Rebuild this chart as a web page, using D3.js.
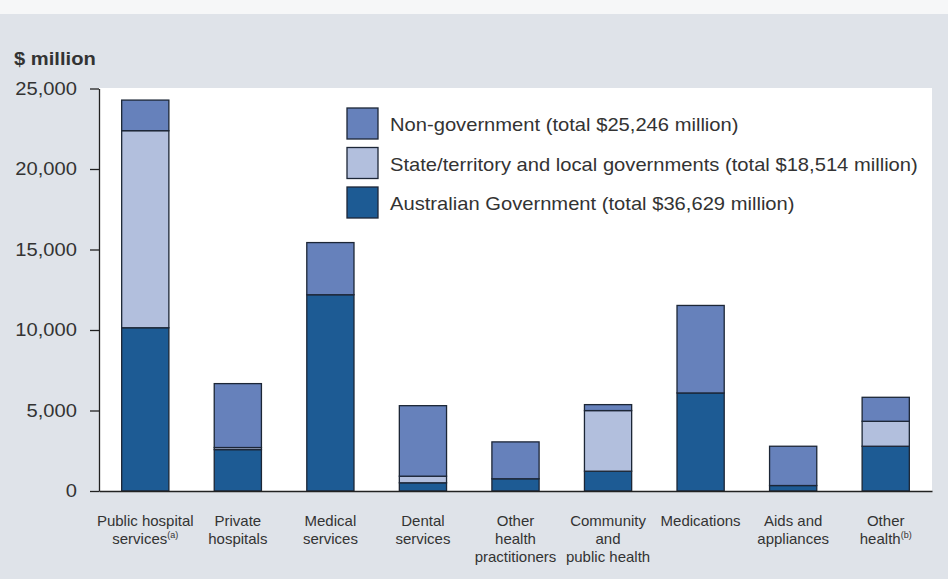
<!DOCTYPE html>
<html>
<head>
<meta charset="utf-8">
<script src="https://cdn.jsdelivr.net/npm/d3@7/dist/d3.min.js"></script>
<style>
  html, body { margin: 0; padding: 0; background: #dfe3e9; }
  svg { display: block; }
  text { font-family: "Liberation Sans", Arial, sans-serif; fill: #333; }
</style>
</head>
<body>
<svg id="chart" width="948" height="579"></svg>
<script>
// Health expenditure by area and source of funds ($ million)
const categories = [
  "Public hospital services", "Private hospitals", "Medical services",
  "Dental services", "Other health practitioners", "Community and public health",
  "Medications", "Aids and appliances", "Other health"
];
// Axis label lines for each category; [text, note] pairs mark superscript notes
const categoryLines = [
  [["Public hospital"], ["services", "(a)"]],
  [["Private"], ["hospitals"]],
  [["Medical"], ["services"]],
  [["Dental"], ["services"]],
  [["Other"], ["health"], ["practitioners"]],
  [["Community"], ["and"], ["public health"]],
  [["Medications"]],
  [["Aids and"], ["appliances"]],
  [["Other"], ["health", "(b)"]]
];
const australianGovernment = [10140, 2570, 12190, 510, 760, 1230, 6090, 340, 2780];
const stateLocalGovernment = [12240, 130, 0, 410, 0, 3765, 0, 0, 1550];
const nonGovernment        = [1900, 3970, 3240, 4380, 2290, 370, 5435, 2440, 1490];

const seriesKeys   = ["aus", "state", "nongov"];
const seriesLabels = {
  nongov: "Non-government (total $25,246 million)",
  state:  "State/territory and local governments (total $18,514 million)",
  aus:    "Australian Government (total $36,629 million)"
};
const legendOrder = ["nongov", "state", "aus"];
const yTicks = [0, 5000, 10000, 15000, 20000, 25000];
const yAxisTitle = "$ million";

const colors = { aus: "#1d5b94", state: "#b2bfdd", nongov: "#6681bb" };
const wide = 1.12; // horizontal stretch of the heading, tick and legend type

const rows = categories.map((c, i) => ({
  category: c,
  aus: australianGovernment[i],
  state: stateLocalGovernment[i],
  nongov: nonGovernment[i]
}));

const svg = d3.select("#chart");
const W = 948, H = 579;
const plot = { left: 99, right: 932, top: 88, bottom: 491 };

// page background: white strip on top, grey panel below
svg.append("rect").attr("x", 0).attr("y", 0).attr("width", W).attr("height", 14).attr("fill", "#f6f7f8");

// white plotting area
svg.append("rect")
  .attr("x", plot.left).attr("y", plot.top)
  .attr("width", plot.right - plot.left).attr("height", plot.bottom - plot.top)
  .attr("fill", "#ffffff");

const x = d3.scaleBand()
  .domain(categories)
  .range([plot.left, plot.right])
  .paddingInner(0.49)
  .paddingOuter(0.245);

const y = d3.scaleLinear().domain([0, 25000]).range([plot.bottom, plot.top + 0.5]);

const stack = d3.stack().keys(seriesKeys);
const layers = stack(rows);

// stacked bars
svg.append("g").selectAll("g")
  .data(layers)
  .join("g")
  .attr("fill", d => colors[d.key])
  .selectAll("rect")
  .data(d => d.filter(s => s[1] - s[0] > 0))
  .join("rect")
  .attr("x", d => x(d.data.category))
  .attr("width", x.bandwidth())
  .attr("y", d => y(d[1]))
  .attr("height", d => y(d[0]) - y(d[1]))
  .attr("stroke", "#1c2636")
  .attr("stroke-width", 1.3);

// y axis
const tickSize = 9, tickPad = 13;
const yAxis = d3.axisLeft(y)
  .tickValues(yTicks)
  .tickFormat(d3.format(","))
  .tickSize(tickSize)
  .tickSizeOuter(0)
  .tickPadding(tickPad);
const yg = svg.append("g").attr("transform", `translate(${plot.left},0)`).call(yAxis);
yg.select(".domain").attr("stroke", "#222").attr("stroke-width", 1.3);
yg.selectAll(".tick line").attr("stroke", "#222").attr("stroke-width", 1.3);
yg.selectAll(".tick text")
  .attr("x", 0)
  .attr("transform", `translate(${-(tickSize + tickPad)},0) scale(${wide},1)`)
  .attr("font-size", 18)
  .attr("font-family", "Liberation Sans, Arial, sans-serif")
  .attr("fill", "#3a3a3a");

// x axis baseline
const xAxis = d3.axisBottom(x).tickSize(0).tickSizeOuter(0).tickFormat("");
const xg = svg.append("g").attr("transform", `translate(0,${plot.bottom})`).call(xAxis);
xg.select(".domain").attr("stroke", "#222").attr("stroke-width", 1.3);

// category labels
const lineGap = 18;
const labelG = svg.append("g");
categories.forEach((c, i) => {
  const t = labelG.append("text")
    .attr("x", x(c) + x.bandwidth() / 2)
    .attr("y", 526)
    .attr("text-anchor", "middle")
    .attr("font-size", 15)
    .attr("fill", "#333");
  categoryLines[i].forEach((line, j) => {
    t.append("tspan")
      .attr("x", x(c) + x.bandwidth() / 2)
      .attr("dy", j === 0 ? 0 : lineGap)
      .text(line[0]);
    if (line[1]) {
      t.append("tspan")
        .attr("font-size", 9)
        .attr("dy", -6)
        .text(line[1]);
      t.append("tspan").attr("dy", 6).text("");
    }
  });
});

// axis title
svg.append("text")
  .attr("transform", `translate(14,65) scale(${wide},1)`)
  .attr("font-size", 18)
  .attr("font-weight", "bold")
  .attr("fill", "#333")
  .text(yAxisTitle);

// legend
const legend = svg.append("g").attr("transform", "translate(347,108)");
legendOrder.forEach((k, i) => {
  const g = legend.append("g").attr("transform", `translate(0,${i * 39.5})`);
  g.append("rect")
    .attr("width", 31).attr("height", 31)
    .attr("fill", colors[k])
    .attr("stroke", "#1c2636").attr("stroke-width", 1.3);
  g.append("text")
    .attr("transform", `translate(43,23) scale(${wide},1)`)
    .attr("font-size", 18)
    .attr("fill", "#333")
    .text(seriesLabels[k]);
});
</script>
</body>
</html>
